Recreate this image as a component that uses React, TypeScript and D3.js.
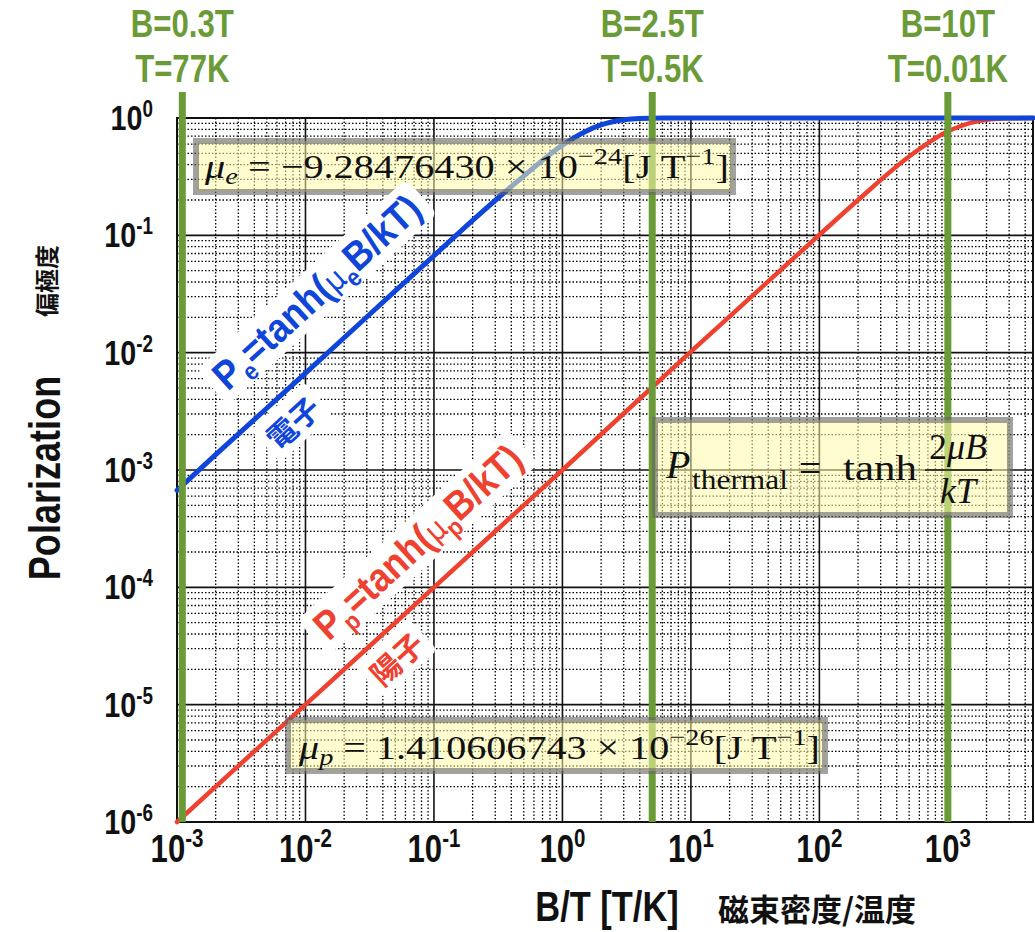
import React from 'react';
import * as d3 from 'd3';

// decade exponents shown on each axis
const xExponents = [-3, -2, -1, 0, 1, 2, 3];
const yExponents = [-6, -5, -4, -3, -2, -1, 0];

// electron polarization
const electronBT = [0.001, 0.002, 0.005, 0.01, 0.02, 0.05, 0.1, 0.2, 0.5, 1, 1.5, 2, 3, 4, 6, 10, 100, 4600];
const electronP = [6.7e-4, 1.35e-3, 3.36e-3, 6.7e-3, 0.0134, 0.0336, 0.067, 0.134, 0.32, 0.587, 0.765, 0.873, 0.965, 0.991, 0.9996, 1, 1, 1];

// proton polarization
const protonBT = [0.001, 0.01, 0.1, 1, 10, 100, 200, 500, 1000, 1500, 2000, 3000, 4600];
const protonP = [1.0e-6, 1.0e-5, 1.0e-4, 1.0e-3, 0.0102, 0.101, 0.2, 0.47, 0.77, 0.91, 0.967, 0.994, 1];

// green marker lines
const markerBT = [0.0011, 5, 1000];
const markerB = ['B=0.3T', 'B=2.5T', 'B=10T'];
const markerT = ['T=77K', 'T=0.5K', 'T=0.01K'];

const W = 1035;
const H = 932;
const GREEN = '#6b9b37';
const BLUE = '#0f45d8';
const RED = '#ee4130';
const SANS = "'Liberation Sans', Arial, sans-serif";
const SERIF = "'Liberation Serif', 'DejaVu Serif', serif";
const CJK = "'Noto Sans CJK JP', 'Noto Sans CJK SC', sans-serif";
const SQUEEZE = 0.82; // the original lettering is a condensed bold

export default function App() {
    const margin = { top: 118, right: 2, bottom: 110, left: 177 };

    const x = d3.scaleLog().domain([1e-3, 4600]).range([margin.left, W - margin.right]);
    const y = d3.scaleLog().domain([1e-6, 1]).range([H - margin.bottom, margin.top]);

    const x0 = margin.left, x1 = W - margin.right;
    const y0 = margin.top, y1 = H - margin.bottom;

    const isMajor = (v: number) => Math.abs(Math.log10(v) - Math.round(Math.log10(v))) < 1e-9;
    const xMinor = x.ticks().filter(v => !isMajor(v));
    const yMinor = y.ticks().filter(v => !isMajor(v));

    const line = d3.line<[number, number]>()
        .x(d => x(d[0]))
        .y(d => y(d[1]))
        .curve(d3.curveMonotoneX);

    const electron = electronBT.map((b, i) => [b, electronP[i]] as [number, number]);
    const proton = protonBT.map((b, i) => [b, protonP[i]] as [number, number]);

    const angle = -Math.atan((y(1e-2) - y(1e-1)) / (x(1e-1) - x(1e-2))) * 180 / Math.PI;

    const cond = (tx: number, ty: number, rot = 0) =>
        `translate(${tx},${ty}) rotate(${rot}) scale(${SQUEEZE},1)`;

    const formulaLabel = (cx: number, cy: number, color: string, sub: string) => (
        <g transform={`translate(${cx},${cy}) rotate(${angle})`}>
            <rect x={-142} y={-37} width={284} height={47} rx={8} fill="white" />
            <text textAnchor="middle" fontFamily={SANS} fontWeight="bold" fontSize={40}
                fill={color} textLength={266} lengthAdjust="spacingAndGlyphs">
                P<tspan dy={9} fontSize={25}>{sub}</tspan>
                <tspan dy={-9}>=tanh(</tspan>
                <tspan fontWeight="normal" fontFamily="'DejaVu Sans', sans-serif" fontSize={31}>μ</tspan>
                <tspan dy={9} fontSize={25}>{sub}</tspan>
                <tspan dy={-9}>B/kT)</tspan>
            </text>
        </g>
    );

    const kanjiLabel = (cx: number, cy: number, color: string, txt: string) => (
        <g transform={`translate(${cx},${cy}) rotate(${angle})`}>
            <rect x={-36} y={-22} width={72} height={44} rx={6} fill="white" />
            <text textAnchor="middle" dominantBaseline="central" fontFamily={CJK}
                fontWeight="bold" fontSize={30} fill={color}>{txt}</text>
        </g>
    );

    const boxFill = 'rgba(255,252,170,0.55)';
    const boxStroke = 'rgba(100,100,100,0.6)';

    return (
        <svg width={W} height={H} style={{ position: 'absolute', left: 0, top: 0, background: 'white' }}>
            {/* minor grid */}
            <g stroke="#000" strokeWidth={1.3} strokeDasharray="1.5,2">
                {xMinor.map((v, i) => <line key={'xm' + i} x1={x(v)} x2={x(v)} y1={y0} y2={y1} />)}
                {yMinor.map((v, i) => <line key={'ym' + i} x1={x0} x2={x1} y1={y(v)} y2={y(v)} />)}
            </g>
            {/* major grid */}
            <g stroke="#111" strokeWidth={1.6}>
                {xExponents.map(e => <line key={'xM' + e} x1={x(10 ** e)} x2={x(10 ** e)} y1={y0} y2={y1} />)}
                {yExponents.map(e => <line key={'yM' + e} x1={x0} x2={x1} y1={y(10 ** e)} y2={y(10 ** e)} />)}
            </g>
            <rect x={x0} y={y0} width={x1 - x0} height={y1 - y0} fill="none" stroke="#111" strokeWidth={2} />

            {/* curves */}
            <path d={line(proton) || ''} fill="none" stroke={RED} strokeWidth={4.5} strokeLinecap="round" />
            <path d={line(electron) || ''} fill="none" stroke={BLUE} strokeWidth={5} strokeLinecap="round" />

            {/* green markers */}
            {markerBT.map((v, i) => (
                <g key={'g' + i}>
                    <line x1={x(v)} x2={x(v)} y1={92} y2={y1} stroke={GREEN} strokeWidth={7} />
                    <text transform={cond(x(v), 37)} textAnchor="middle" fontFamily={SANS} fontWeight="bold"
                        fontSize={38} fill={GREEN}>{markerB[i]}</text>
                    <text transform={cond(x(v), 82)} textAnchor="middle" fontFamily={SANS} fontWeight="bold"
                        fontSize={38} fill={GREEN}>{markerT[i]}</text>
                </g>
            ))}

            {/* annotation boxes */}
            <rect x={196} y={141} width={537} height={51} fill={boxFill} stroke={boxStroke} strokeWidth={6} />
            <text x={205} y={178} fontFamily={SERIF} fontSize={34} fill="#111" textLength={524} lengthAdjust="spacingAndGlyphs">
                <tspan fontStyle="italic">μ</tspan>
                <tspan dy={6} fontSize={24} fontStyle="italic">e</tspan>
                <tspan dy={-6}> = −9.28476430 × 10</tspan>
                <tspan dy={-14} fontSize={24}>−24</tspan>
                <tspan dy={14}>[J T</tspan>
                <tspan dy={-14} fontSize={24}>−1</tspan>
                <tspan dy={14}>]</tspan>
            </text>

            <rect x={288} y={720} width={537} height={51} fill={boxFill} stroke={boxStroke} strokeWidth={6} />
            <text x={299} y={759} fontFamily={SERIF} fontSize={34} fill="#111" textLength={521} lengthAdjust="spacingAndGlyphs">
                <tspan fontStyle="italic">μ</tspan>
                <tspan dy={6} fontSize={24} fontStyle="italic">p</tspan>
                <tspan dy={-6}> = 1.410606743 × 10</tspan>
                <tspan dy={-14} fontSize={24}>−26</tspan>
                <tspan dy={14}>[J T</tspan>
                <tspan dy={-14} fontSize={24}>−1</tspan>
                <tspan dy={14}>]</tspan>
            </text>

            <rect x={655} y={420} width={355} height={95} fill={boxFill} stroke={boxStroke} strokeWidth={6} />
            <g fontFamily={SERIF} fill="#111">
                <text x={666} y={478} fontSize={40} fontStyle="italic">P</text>
                <text x={692} y={489} fontSize={28} textLength={96} lengthAdjust="spacingAndGlyphs">thermal</text>
                <text x={810} y={482} fontSize={40} textAnchor="middle">=</text>
                <text x={843} y={480} fontSize={36} textLength={74} lengthAdjust="spacingAndGlyphs">tanh</text>
                <text x={958} y={459} fontSize={36} textAnchor="middle">2<tspan fontStyle="italic">μB</tspan></text>
                <line x1={925} x2={992} y1={470} y2={470} stroke="#111" strokeWidth={1.6} />
                <text x={958} y={503} fontSize={36} textAnchor="middle" fontStyle="italic">kT</text>
            </g>

            {/* rotated curve labels */}
            {formulaLabel(326, 302, BLUE, 'e')}
            {kanjiLabel(292, 422, BLUE, '電子')}
            {formulaLabel(427, 552, RED, 'p')}
            {kanjiLabel(396, 658, RED, '陽子')}

            {/* tick labels */}
            {xExponents.map(e => (
                <text key={'xl' + e} transform={cond(x(10 ** e), 862)} textAnchor="middle" fontFamily={SANS}
                    fontWeight="bold" fontSize={38} fill="#111">
                    10<tspan dy={-15} fontSize={25}>{e}</tspan>
                </text>
            ))}
            {yExponents.map(e => (
                <text key={'yl' + e} transform={cond(153, y(10 ** e) + 12)} textAnchor="end" fontFamily={SANS}
                    fontWeight="bold" fontSize={35} fill="#111">
                    10<tspan dy={-13} fontSize={23}>{e}</tspan>
                </text>
            ))}

            {/* axis titles */}
            <text transform={cond(607, 921)} textAnchor="middle" fontFamily={SANS} fontWeight="bold" fontSize={42} fill="#111">B/T [T/K]</text>
            <text x={718} y={921} fontFamily={CJK} fontWeight="bold" fontSize={31} fill="#111">磁束密度/温度</text>
            <text transform={`translate(60,478) rotate(-90) scale(${SQUEEZE},1)`} textAnchor="middle" fontFamily={SANS}
                fontWeight="bold" fontSize={44} fill="#111">Polarization</text>
            <text transform="translate(56,281) rotate(-90)" textAnchor="middle" fontFamily={CJK}
                fontWeight="bold" fontSize={24} fill="#111">偏極度</text>
        </svg>
    );
}
